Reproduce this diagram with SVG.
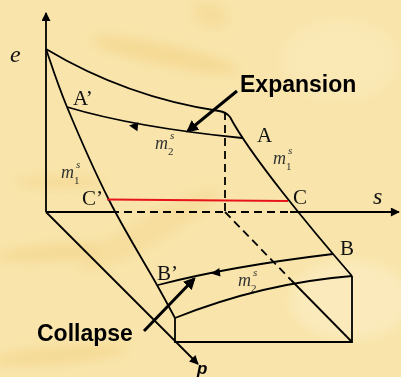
<svg xmlns="http://www.w3.org/2000/svg" width="401" height="377" viewBox="0 0 401 377">
<defs>
<filter id="blur" x="-50%" y="-50%" width="200%" height="200%"><feGaussianBlur stdDeviation="6"/></filter>
<marker id="ah" viewBox="0 0 10 10" refX="9" refY="5" markerWidth="10" markerHeight="9" markerUnits="userSpaceOnUse" orient="auto"><path d="M0,0 L10,5 L0,10 Z" fill="#000"/></marker>
<marker id="ahb" viewBox="0 0 10 10" refX="8" refY="5" markerWidth="4" markerHeight="4" orient="auto"><path d="M0,0 L10,5 L0,10 Z" fill="#000"/></marker>
</defs>
<style>
.ln{fill:none;stroke:#000;stroke-width:1.8}
.dash{fill:none;stroke:#000;stroke-width:1.8;stroke-dasharray:8 5}
.big{fill:none;stroke:#000;stroke-width:3}
.lab{font-family:"Liberation Serif",serif;font-size:21px;fill:#111}
.ital{font-family:"Liberation Serif",serif;font-style:italic;font-size:24px;fill:#111}
.m{font-family:"Liberation Serif",serif;font-style:italic;font-size:18px;fill:#333}
.sm{font-family:"Liberation Serif",serif;font-size:11px;fill:#333}
.smi{font-family:"Liberation Serif",serif;font-style:italic;font-size:11px;fill:#333}
.bold{font-family:"Liberation Sans",Arial,sans-serif;font-weight:bold;font-size:23px;fill:#000}
</style>
<g id="background">
<rect width="401" height="377" fill="#F9E5AB"/>
<g filter="url(#blur)" opacity="0.5">
<ellipse cx="165" cy="55" rx="75" ry="10" transform="rotate(12 165 55)" fill="#F1CD7E"/>
<ellipse cx="210" cy="15" rx="18" ry="12" transform="rotate(20 210 15)" fill="#F3D48C"/>
<ellipse cx="65" cy="252" rx="70" ry="8" transform="rotate(-4 65 252)" fill="#F1CD7E"/>
<ellipse cx="60" cy="182" rx="45" ry="5" fill="#F1CD7E"/>
<ellipse cx="60" cy="355" rx="70" ry="8" transform="rotate(-5 60 355)" fill="#F1CD7E"/>
<ellipse cx="150" cy="230" rx="80" ry="14" transform="rotate(-30 150 230)" fill="#F4D690"/>
<ellipse cx="350" cy="300" rx="60" ry="40" fill="#FCF0CC"/>
<ellipse cx="340" cy="60" rx="60" ry="40" fill="#FBEBBE"/>
</g>
</g>
<g id="connectors">
<line id="e-axis" class="ln" x1="46" y1="212" x2="46" y2="13" marker-end="url(#ah)"/>
<path id="s-axis-solid1" class="ln" d="M46,212 H111"/>
<path id="s-axis-dash" class="dash" d="M111,212 H290"/>
<line id="s-axis-solid2" class="ln" x1="290" y1="212" x2="399" y2="212" marker-end="url(#ah)"/>
<line id="p-axis" class="ln" x1="46" y1="212" x2="198" y2="364" marker-end="url(#ah)"/>
<path id="top-curve" class="ln" d="M46,49 Q126,97 219,111 Q226,112 230,117 C250,155 312,230 352,276"/>
<path id="left-curve" class="ln" d="M46,49 C49.5,58.7 56.5,81.8 67,107 C77.5,132.2 94,170.3 109,200 C124,229.7 146,265.3 157,285 C168,304.7 172,312.5 175,318"/>
<path id="AA-curve" class="ln" d="M67,107 Q134.5,127.25 242,138"/>
<path id="BB-curve" class="ln" d="M158,285 Q229.4,266.4 333,254"/>
<path id="box-top" class="ln" d="M175,318 Q262,283.2 352,276"/>
<path id="box" class="ln" d="M175,318 V342 H352 V276"/>
<path id="vert-dash" class="dash" d="M225,112 V212"/>
<path id="diag-dash" class="dash" d="M225,212 L291,280"/>
<path id="diag-solid" class="ln" d="M291,280 L352,342"/>
<line id="red-line" x1="107" y1="199.5" x2="288" y2="201" stroke="#E8141C" stroke-width="2"/>
<polygon points="129,125.5 138.4,122.3 137.4,131.3" fill="#000"/>
<polygon points="211,273.5 219.3,268.1 220.5,276.4" fill="#000"/>
<line id="expansion-arrow" class="big" x1="237" y1="91" x2="188" y2="131" marker-end="url(#ahb)"/>
<line id="collapse-arrow" class="big" x1="144" y1="331" x2="194" y2="279" marker-end="url(#ahb)"/>
</g>
<g id="labels">
<text class="ital" x="10" y="62">e</text>
<text class="ital" x="373" y="204">s</text>
<text class="lab" x="73" y="105">A’</text>
<text class="lab" x="257" y="142">A</text>
<text class="lab" x="82" y="205">C’</text>
<text class="lab" x="293" y="204">C</text>
<text class="lab" x="340" y="255">B</text>
<text class="lab" x="157" y="280">B’</text>
<g id="m2s-top"><text class="m" x="155" y="149">m</text><text class="smi" x="170" y="139">s</text><text class="sm" x="168" y="155">2</text></g>
<g id="m1s-right"><text class="m" x="273" y="164">m</text><text class="smi" x="288" y="154">s</text><text class="sm" x="286" y="170">1</text></g>
<g id="m1s-left"><text class="m" x="61" y="178">m</text><text class="smi" x="76" y="168">s</text><text class="sm" x="74" y="184">1</text></g>
<g id="m2s-bottom"><text class="m" x="238" y="286">m</text><text class="smi" x="253" y="276">s</text><text class="sm" x="251" y="292">2</text></g>
<text class="bold" x="240" y="92">Expansion</text>
<text class="bold" x="37" y="341">Collapse</text>
<text x="197" y="374" font-family="Liberation Sans,Arial,sans-serif" font-weight="bold" font-style="italic" font-size="17" fill="#000">p</text>
</g>
</svg>
